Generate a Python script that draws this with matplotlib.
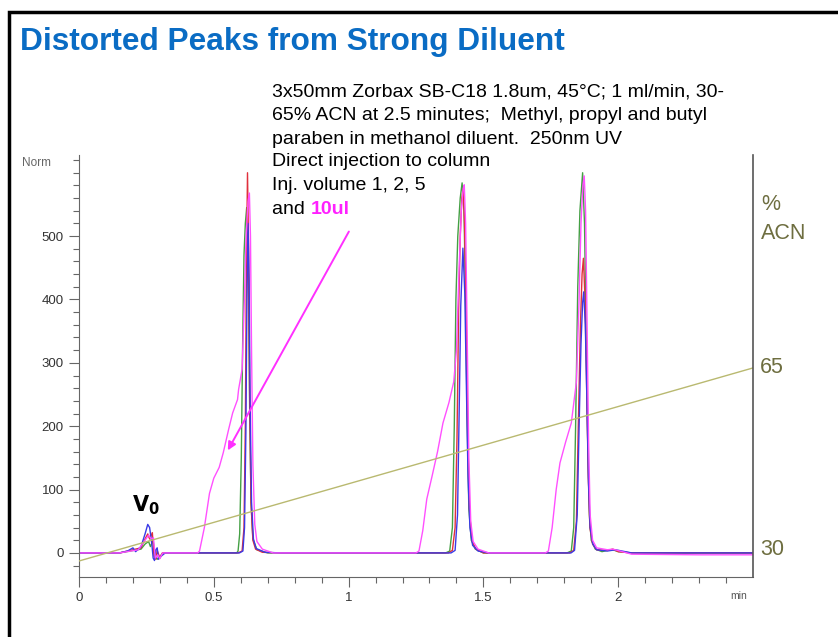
import numpy as np
import matplotlib
matplotlib.use("Agg")
import matplotlib.pyplot as plt
from matplotlib.patches import Rectangle

plt.rcParams['font.family'] = ['Liberation Sans', 'DejaVu Sans']

# ------------------------------
# DATA (time in min, signal in Norm)
# ------------------------------
red = [(0, 0), (0.15, 0), (0.2, 5), (0.23, 8), (0.245, 22), (0.255, 30), (0.262, 22), (0.272, 32),
       (0.278, -5), (0.285, -10), (0.29, 4), (0.3, -8), (0.31, 0),
       (0.59, 0), (0.605, 3), (0.612, 40), (0.617, 200), (0.621, 450), (0.625, 600), (0.629, 480),
       (0.633, 250), (0.638, 80), (0.645, 20), (0.655, 6), (0.68, 1), (0.75, 0),
       (1.37, 0), (1.385, 4), (1.395, 40), (1.402, 180), (1.408, 380), (1.414, 500), (1.42, 560),
       (1.425, 575), (1.43, 520), (1.436, 380), (1.442, 190), (1.448, 70), (1.457, 20), (1.472, 6), (1.5, 0),
       (1.82, 0), (1.835, 4), (1.845, 50), (1.852, 200), (1.86, 360), (1.866, 440), (1.871, 465),
       (1.877, 400), (1.883, 260), (1.889, 120), (1.895, 40), (1.905, 14), (1.92, 5), (1.96, 4),
       (1.98, 6), (2.0, 2), (2.05, 0), (2.5, 0)]

green = [(0, 0), (0.15, 0), (0.23, 6), (0.245, 14), (0.258, 18), (0.265, 10), (0.275, 20),
         (0.282, -5), (0.29, -10), (0.3, -6), (0.31, 0),
         (0.585, 0), (0.59, 3), (0.596, 30), (0.602, 150), (0.607, 330), (0.612, 470), (0.617, 520),
         (0.622, 545), (0.628, 440), (0.633, 230), (0.638, 80), (0.645, 22), (0.66, 5), (0.7, 0),
         (1.36, 0), (1.375, 3), (1.385, 40), (1.392, 200), (1.398, 400), (1.405, 500), (1.414, 560),
         (1.421, 584), (1.428, 540), (1.434, 400), (1.44, 200), (1.446, 70), (1.455, 20), (1.47, 6), (1.5, 0),
         (1.81, 0), (1.826, 3), (1.835, 40), (1.842, 200), (1.85, 420), (1.858, 540), (1.868, 600),
         (1.875, 520), (1.881, 350), (1.887, 170), (1.893, 60), (1.9, 20), (1.915, 6), (1.94, 2),
         (1.96, 4), (1.98, 5), (2.0, 2), (2.05, 0), (2.5, 0)]

blue = [(0, 0), (0.15, 0), (0.18, 3), (0.2, 8), (0.21, 2), (0.23, 10), (0.245, 30), (0.255, 45),
        (0.262, 40), (0.27, 15), (0.275, -8), (0.28, -12), (0.285, 5), (0.29, 8), (0.295, -10),
        (0.305, -5), (0.32, 0),
        (0.595, 0), (0.608, 3), (0.614, 40), (0.619, 190), (0.623, 400), (0.627, 520), (0.631, 430),
        (0.635, 230), (0.64, 80), (0.647, 22), (0.657, 7), (0.69, 1), (0.75, 0),
        (1.38, 0), (1.395, 4), (1.404, 60), (1.41, 220), (1.416, 390), (1.424, 481), (1.431, 410),
        (1.437, 260), (1.443, 120), (1.45, 40), (1.46, 12), (1.48, 3), (1.52, 0),
        (1.825, 0), (1.838, 4), (1.848, 60), (1.855, 200), (1.862, 330), (1.868, 395), (1.872, 412),
        (1.878, 360), (1.884, 240), (1.89, 110), (1.896, 40), (1.906, 14), (1.92, 5), (1.96, 3),
        (1.99, 5), (2.05, 0), (2.5, 0)]

magenta = [(0, 0), (0.15, 0), (0.22, 5), (0.245, 20), (0.258, 28), (0.268, 22), (0.276, 24),
           (0.283, -8), (0.292, -3), (0.3, -9), (0.31, 0),
           (0.44, 0), (0.447, 3), (0.465, 40), (0.484, 94), (0.5, 118), (0.52, 135), (0.535, 158),
           (0.555, 195), (0.57, 221), (0.588, 242), (0.592, 258), (0.605, 290), (0.612, 380),
           (0.62, 500), (0.627, 555), (0.632, 568), (0.636, 500), (0.64, 320), (0.645, 140),
           (0.652, 45), (0.66, 18), (0.68, 6), (0.72, 0),
           (1.25, 0), (1.261, 3), (1.275, 35), (1.29, 85), (1.309, 120), (1.33, 160), (1.35, 205),
           (1.372, 237), (1.39, 270), (1.4, 320), (1.41, 450), (1.418, 540), (1.425, 575),
           (1.429, 581), (1.434, 520), (1.44, 340), (1.446, 150), (1.453, 50), (1.462, 18),
           (1.48, 6), (1.52, 0),
           (1.73, 0), (1.741, 3), (1.755, 40), (1.77, 100), (1.784, 142), (1.805, 175), (1.826, 205),
           (1.845, 270), (1.855, 400), (1.862, 520), (1.869, 580), (1.874, 595), (1.879, 540),
           (1.884, 380), (1.89, 180), (1.896, 60), (1.905, 20), (1.92, 8), (1.96, 5), (1.98, 6),
           (2.05, -2), (2.3, -3), (2.5, -3)]

grad_time = [0, 2.5]
grad_acn = [30, 65]

traces = [(green, '#44a044'), (red, '#e0303c'), (blue, '#3a3ae6'), (magenta, '#ff50ff')]

notes = ["3x50mm Zorbax SB-C18 1.8um, 45\u00b0C; 1 ml/min, 30-",
         "65% ACN at 2.5 minutes;  Methyl, propyl and butyl",
         "paraben in methanol diluent.  250nm UV",
         "Direct injection to column",
         "Inj. volume 1, 2, 5"]

# ------------------------------
# FIGURE
# ------------------------------
W, H = 838, 637
fig = plt.figure(figsize=(W / 100, H / 100), dpi=100)

def px(x, y):
    return x / W, 1 - y / H

ax = fig.add_axes([79 / W, 60 / H, 674 / W, 422 / H])
for pts, col in traces:
    arr = np.array(pts)
    ax.plot(arr[:, 0], arr[:, 1], color=col, lw=1.0)

ax.set_xlim(0, 2.5)
ax.set_ylim(-38, 628)
ax.set_xticks([0, 0.5, 1, 1.5, 2])
ax.set_xticklabels(['0', '0.5', '1', '1.5', '2'])
ax.set_xticks(np.arange(0, 2.5, 0.1), minor=True)
ax.set_yticks([0, 100, 200, 300, 400, 500])
ax.set_yticks(np.arange(-20, 621, 20), minor=True)
ax.tick_params(which='major', length=7, width=0.8, color='#666666', labelsize=9.5,
               labelcolor='#333333', pad=4)
ax.tick_params(which='minor', length=4, width=0.8, color='#666666')
ax.spines['top'].set_visible(False)
ax.spines['right'].set_visible(False)
for s in ('left', 'bottom'):
    ax.spines[s].set_color('#666666')
    ax.spines[s].set_linewidth(0.8)

ax.text(0.978, -0.045, 'min', transform=ax.transAxes, ha='center', va='center',
        fontsize=7.5, color='#555555')

ax2 = ax.twinx()
ax2.plot(grad_time, grad_acn, color='#b9b970', lw=1.0)
ax2.set_ylim(27.1, 103.6)
ax2.set_yticks([])
for s in ('top', 'left', 'bottom'):
    ax2.spines[s].set_visible(False)
ax2.spines['right'].set_color('#555555')
ax2.spines['right'].set_linewidth(1.2)
olive = '#6e6e40'
ax2.text(1.01, 65, '65', transform=ax2.get_yaxis_transform(), ha='left', va='center',
         fontsize=15.5, color=olive)
ax2.text(1.01, 32, '30', transform=ax2.get_yaxis_transform(), ha='left', va='center',
         fontsize=15.5, color=olive)
fig.text(*px(761, 205), '%', ha='left', va='center', fontsize=15.5, color=olive)
fig.text(*px(761, 233), 'ACN', ha='left', va='center', fontsize=15.5, color=olive)

# V0 label and arrow
ax.text(0.25, 76, r'$\mathbf{V_0}$', ha='center', va='center', fontsize=15, color='black')
ax.annotate('', xy=(0.547, 158), xytext=(1.006, 511),
            arrowprops=dict(arrowstyle='-|>', color='#ff30ff', lw=1.4, mutation_scale=12))

# ------------------------------
# TEXTS
# ------------------------------
fig.text(*px(20, 42), 'Distorted Peaks from Strong Diluent', ha='left', va='center',
         fontsize=22.8, fontweight='bold', color='#0a6cc4')
fig.text(*px(22, 163), 'Norm', ha='left', va='center', fontsize=8.5, color='#666666')

line_y = [92, 116, 139, 162, 186]
for txt, yy in zip(notes, line_y):
    fig.text(*px(272, yy), txt, ha='left', va='center', fontsize=14, color='black')
t_and = fig.text(*px(272, 210), 'and ', ha='left', va='center', fontsize=14, color='black')
fig.canvas.draw()
bb = t_and.get_window_extent()
fig.text(bb.x1 / W, 1 - 210 / H, '10ul', ha='left', va='center', fontsize=14,
         fontweight='bold', color='#ff20ff')

# frame
fig.patches.append(Rectangle((8.5 / W, -0.05), 1.2, 1 - 11.5 / H + 0.05, transform=fig.transFigure,
                             fill=False, edgecolor='black', lw=2.5, zorder=0))

fig.savefig('out.png', dpi=100)
